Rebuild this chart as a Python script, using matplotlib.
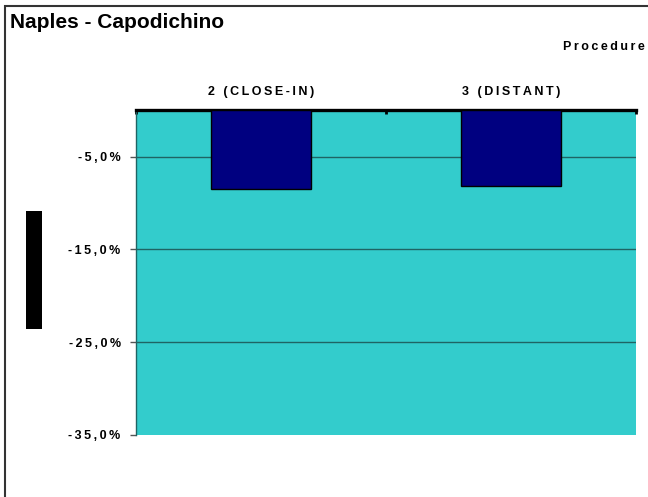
import matplotlib
matplotlib.use("Agg")
import matplotlib.pyplot as plt
from matplotlib.patches import Rectangle
from matplotlib.ticker import FixedLocator, FuncFormatter

categories = ["2 (CLOSE-IN)", "3 (DISTANT)"]
values = [-8.5, -8.2]
yticks = [-5, -15, -25, -35]

W, H = 648, 497
DPI = 100
plt.rcParams['font.family'] = ['Liberation Sans', 'DejaVu Sans']

def spaced(s):
    return "\u2009".join(s)

fig = plt.figure(figsize=(W / DPI, H / DPI), dpi=DPI)
fig.patch.set_facecolor('white')

L, R, T, B = 136, 636, 110.3, 435
ax = fig.add_axes([L / W, 1 - B / H, (R - L) / W, (B - T) / H])
ax.set_facecolor('#33CCCC')

x = list(range(len(categories)))
ax.bar(x, values, width=0.4, color='#000080', edgecolor='black', linewidth=1, zorder=3)
ax.set_xlim(-0.5, len(categories) - 0.5)
ax.set_ylim(-35, 0)

grid_color = '#1f6464'
for v in yticks[:-1]:
    ax.axhline(v, color=grid_color, linewidth=1, zorder=1)

ax.yaxis.set_major_locator(FixedLocator(yticks))
ax.yaxis.set_major_formatter(FuncFormatter(lambda v, p: spaced(f"{v:.1f}".replace('.', ',') + "%")))
ax.tick_params(axis='y', direction='out', length=4, width=1, color='#555555', pad=7,
               labelsize=9)
for lab in ax.get_yticklabels():
    lab.set_fontweight('bold')

ax.xaxis.tick_top()
ax.set_xticks(x)
ax.set_xticklabels([spaced(c) for c in categories], fontweight='bold', fontsize=9)
ax.tick_params(axis='x', which='major', length=0, pad=9)
ax.set_xticks([-0.5, 0.5, 1.5], minor=True)
ax.tick_params(axis='x', which='minor', direction='in', length=3, width=2, color='black', top=True, bottom=False)

for s in ['right', 'bottom']:
    ax.spines[s].set_visible(False)
ax.spines['top'].set_linewidth(2.4)
ax.spines['top'].set_color('black')
ax.spines['left'].set_color(grid_color)
ax.spines['left'].set_linewidth(1)

# title and axis title
fig.text(10 / W, 1 - 22 / H, "Naples - Capodichino", fontsize=15, fontweight='bold',
         va='center', ha='left')
fig.text(645 / W, 1 - 47 / H, spaced("Procedure"), fontsize=9, fontweight='bold',
         va='center', ha='right')

# legend marker
fig.add_artist(Rectangle((26 / W, 1 - 329 / H), 16 / W, 118 / H, transform=fig.transFigure,
                         facecolor='black', edgecolor='none'))

# chart border
fig.add_artist(Rectangle((5 / W, -0.05), 1.2, 1 - 6 / H + 0.05, transform=fig.transFigure,
                         facecolor='none', edgecolor='#333333', linewidth=1.5))

fig.savefig("out.png", dpi=DPI)
